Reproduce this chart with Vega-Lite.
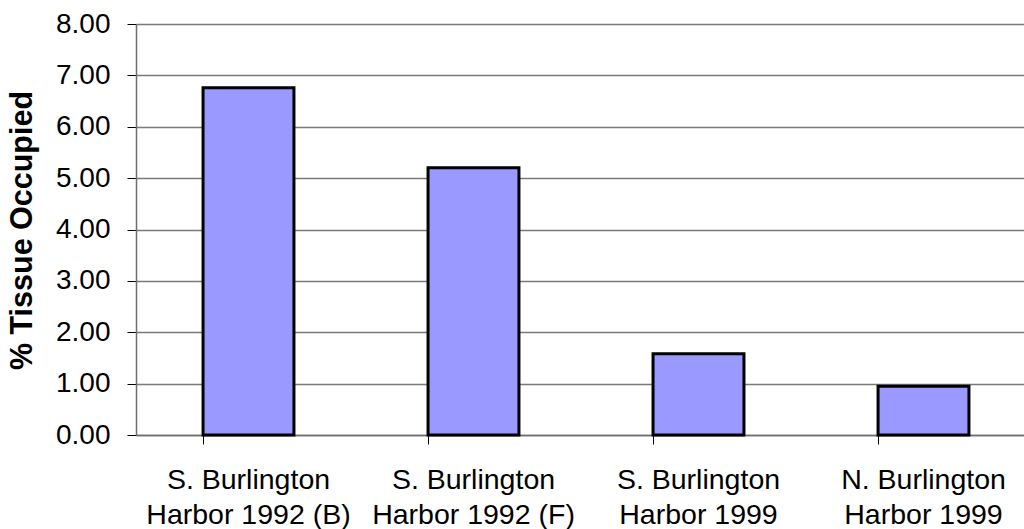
{
  "$schema": "https://vega.github.io/schema/vega-lite/v6.json",
  "autosize": "none",
  "width": 888,
  "height": 411,
  "padding": {"left": 136, "top": 24, "right": 0, "bottom": 94},
  "background": "white",
  "config": {
    "view": {"stroke": null},
    "font": "Liberation Sans"
  },
  "data": {
    "values": [
      {"site": "S. Burlington|Harbor 1992 (B)", "pct": 6.76},
      {"site": "S. Burlington|Harbor 1992 (F)", "pct": 5.2},
      {"site": "S. Burlington|Harbor 1999", "pct": 1.58},
      {"site": "N. Burlington|Harbor 1999", "pct": 0.95}
    ]
  },
  "mark": {"type": "bar", "fill": "#9999FF", "stroke": "#000000", "strokeWidth": 3},
  "encoding": {
    "x": {
      "field": "site",
      "type": "nominal",
      "sort": null,
      "scale": {"range": [0, 900], "paddingInner": 0.596, "paddingOuter": 0.298},
      "axis": {
        "title": null,
        "labelAngle": 0,
        "labelExpr": "split(datum.label, '|')",
        "labelFont": "Liberation Sans",
        "labelFontSize": 28.5,
        "labelColor": "#000000",
        "labelLineHeight": 35,
        "labelPadding": 21,
        "labelBaseline": "top",
        "labelLimit": 0,
        "bandPosition": 0,
        "tickSize": 9,
        "tickColor": "#000000",
        "tickWidth": 1,
        "domainColor": "#6e6e6e",
        "domainWidth": 1.5,
        "grid": false,
        "labelOverlap": false
      }
    },
    "y": {
      "field": "pct",
      "type": "quantitative",
      "scale": {"domain": [0, 8], "nice": false},
      "axis": {
        "title": "% Tissue Occupied",
        "titleFont": "Liberation Sans",
        "titleFontSize": 30.5,
        "titleFontWeight": "bold",
        "titleColor": "#000000",
        "titleX": -114,
        "titleY": 206,
        "titleAlign": "center",
        "titleBaseline": "middle",
        "titleAngle": 270,
        "titleLimit": 0,
        "values": [0, 1, 2, 3, 4, 5, 6, 7, 8],
        "format": ".2f",
        "labelFont": "Liberation Sans",
        "labelFontSize": 28,
        "labelColor": "#000000",
        "labelPadding": 17,
        "tickSize": 9,
        "tickColor": "#000000",
        "domainColor": "#6e6e6e",
        "domainWidth": 1.5,
        "grid": true,
        "gridColor": "#7a7a7a",
        "gridWidth": 1.5
      }
    }
  }
}
